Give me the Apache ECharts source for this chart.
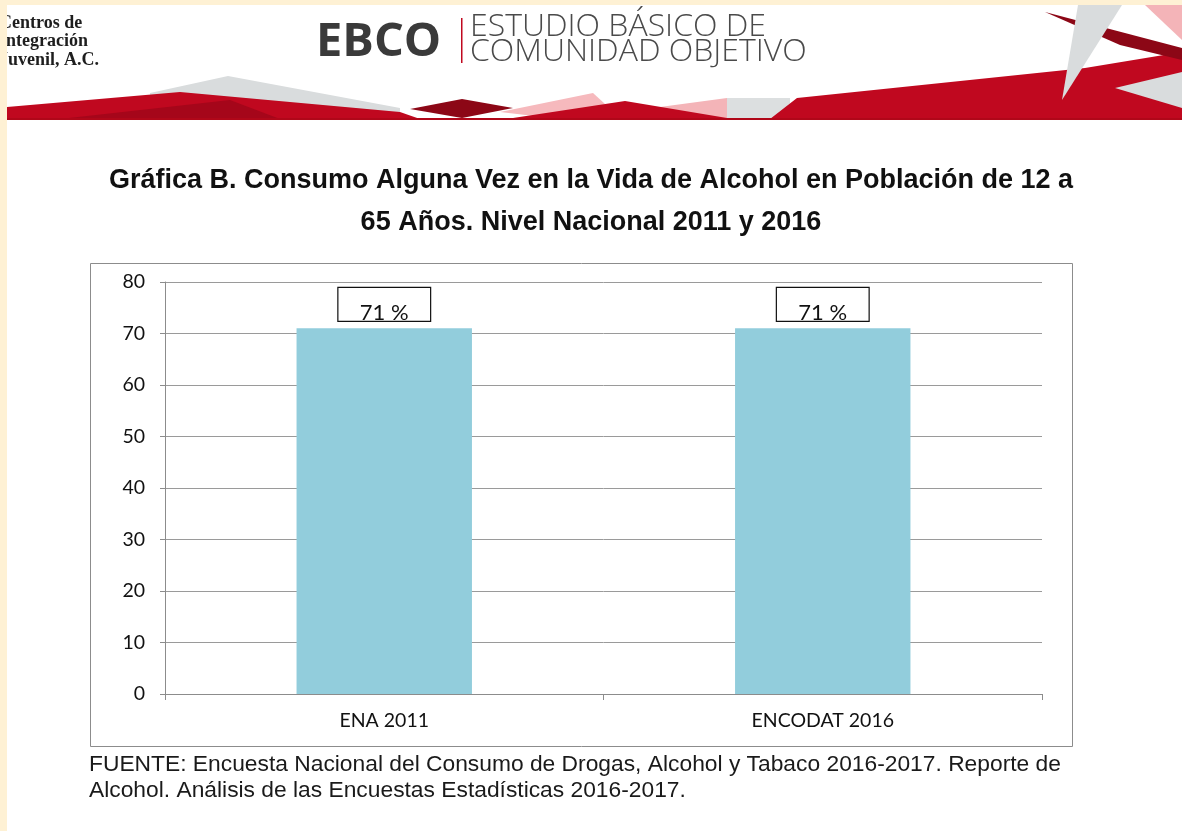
<!DOCTYPE html>
<html>
<head>
<meta charset="utf-8">
<title>Consumo de alcohol</title>
<script src="https://cdn.jsdelivr.net/npm/echarts@6/dist/echarts.min.js"></script>
<style>
  html, body { margin: 0; padding: 0; background: #fff; }
  #chart { width: 1182px; height: 831px; }
</style>
</head>
<body>
<div id="chart"></div>
<script>
// data
const categories = ['ENA 2011', 'ENCODAT 2016'];
const consumo = [71, 71];
const yTicks = [0, 10, 20, 30, 40, 50, 60, 70, 80];

const titleText = 'Gráfica B. Consumo Alguna Vez en la Vida de Alcohol en Población de 12 a\n65 Años. Nivel Nacional 2011 y 2016';
const fuente1 = 'FUENTE: Encuesta Nacional del Consumo de Drogas, Alcohol y Tabaco 2016-2017. Reporte de';
const fuente2 = 'Alcohol. Análisis de las Encuestas Estadísticas 2016-2017.';

const myChart = echarts.init(document.getElementById('chart'));

// header decoration (banner shapes)
const poly = (pts, color, z) => ({ type: 'polygon', shape: { points: pts }, style: { fill: color }, z: z || 1 });
const header = [
  poly([[150, 93], [228, 76], [400, 108], [400, 119], [150, 119]], '#d9dcdd', 1),
  poly([[7, 107], [180, 92], [400, 112], [420, 119], [7, 119]], '#c0081f', 2),
  poly([[60, 119], [230, 100], [280, 119]], '#a5061a', 3),
  poly([[410, 109], [462, 99], [513, 108], [462, 118]], '#8c0716', 3),
  poly([[500, 112], [593, 93], [605, 104], [560, 119]], '#f6b9bd', 2),
  poly([[513, 118], [625, 101], [727, 118], [727, 119], [513, 119]], '#c0081f', 3),
  poly([[660, 107], [727, 98], [727, 119], [690, 119]], '#f4b4b8', 2),
  poly([[727, 98], [790, 98], [790, 119], [727, 119]], '#dcdfe0', 2),
  poly([[770, 119], [797, 98], [1085, 68], [1182, 52], [1182, 119]], '#c0081f', 3),
  poly([[1045, 12], [1182, 48], [1182, 60], [1120, 45]], '#8c0716', 4),
  poly([[1078, 5], [1122, 5], [1062, 100]], '#d9dcdd', 5),
  poly([[1145, 5], [1182, 5], [1182, 40]], '#f4b4b8', 2),
  poly([[1115, 88], [1182, 72], [1182, 108]], '#d9dcdd', 5),
  { type: 'rect', shape: { x: 7, y: 118, width: 1175, height: 2 }, style: { fill: '#b00719' }, z: 4 }
];

const texts = [
  { type: 'text', left: -1, top: 14, z: 6, style: { text: 'Centros de\nIntegración\nJuvenil, A.C.', font: 'bold 18px "Liberation Serif"', lineHeight: 18.5, fill: '#1e1e1e' } },
  { type: 'text', left: 316, top: 19, z: 6, style: { text: 'EBCO', font: 'bold 47px "Open Sans"', fill: '#3a3a3a' } },
  { type: 'rect', shape: { x: 461, y: 18, width: 1.5, height: 45 }, style: { fill: '#c0081f' }, z: 6 },
  { type: 'text', left: 470, top: 11, z: 6, style: { text: 'ESTUDIO BÁSICO DE\nCOMUNIDAD OBJETIVO', font: '300 32px "Open Sans"', lineHeight: 25, fill: '#4a4a4a' } },
  // chart frame
  { type: 'rect', shape: { x: 90.5, y: 263.5, width: 982, height: 483 }, style: { fill: 'none', stroke: '#8c8c8c', lineWidth: 1 }, z: 0 },
  // source note
  { type: 'text', left: 89, top: 752, style: { text: fuente1 + '\n' + fuente2, font: '22.8px "Liberation Sans"', lineHeight: 25.5, fill: '#1a1a1a' } },
  // yellow page edges
  { type: 'rect', shape: { x: 0, y: 0, width: 7, height: 831 }, style: { fill: '#fef1d4' }, z: 20 },
  { type: 'rect', shape: { x: 0, y: 0, width: 1182, height: 5 }, style: { fill: '#fef1d4' }, z: 20 }
];

myChart.setOption({
  animation: false,
  backgroundColor: '#ffffff',
  title: {
    text: titleText,
    left: 'center',
    top: 155,
    textStyle: { fontFamily: 'Liberation Sans', fontWeight: 'bold', fontSize: 27, lineHeight: 42, color: '#111' }
  },
  grid: { left: 165, right: 140, top: 282, bottom: 137 },
  xAxis: {
    type: 'category',
    data: categories,
    axisLine: { lineStyle: { color: '#8c8c8c' } },
    axisTick: { show: true, length: 6, lineStyle: { color: '#8c8c8c' } },
    axisLabel: { margin: 17, fontFamily: 'Lato', fontSize: 19.5, color: '#111' }
  },
  yAxis: {
    type: 'value',
    min: yTicks[0],
    max: yTicks[yTicks.length - 1],
    interval: yTicks[1] - yTicks[0],
    axisLine: { show: true, lineStyle: { color: '#8c8c8c' } },
    axisTick: { show: true, length: 5, lineStyle: { color: '#8c8c8c' } },
    axisLabel: { margin: 20, fontFamily: 'Lato', fontSize: 19.5, color: '#111' },
    splitLine: { lineStyle: { color: '#9a9a9a' } }
  },
  series: [
    {
      type: 'bar',
      data: consumo,
      barWidth: '40%',
      itemStyle: { color: '#92cddc' },
      label: {
        show: true,
        position: 'top',
        distance: 7,
        formatter: '{c} %',
        fontFamily: 'Lato',
        fontSize: 22,
        color: '#111',
        lineHeight: 16,
        borderColor: '#111',
        borderWidth: 1.2,
        padding: [18, 22, 0, 22]
      }
    }
  ],
  graphic: header.concat(texts)
});

window.addEventListener('resize', myChart.resize);
</script>
</body>
</html>
